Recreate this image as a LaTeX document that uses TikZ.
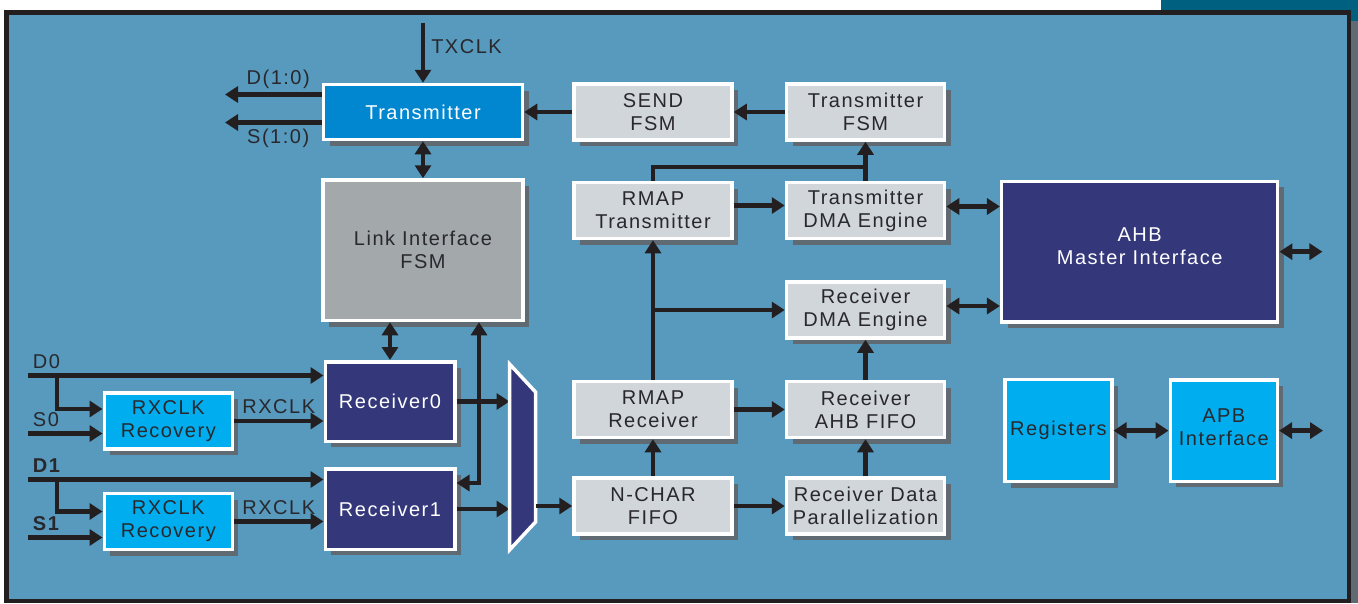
\documentclass[tikz,border=0pt]{standalone}
\usepackage{fontspec}
\setmainfont{Liberation Sans}[LetterSpace=7.5]
\usetikzlibrary{positioning,arrows.meta,shadows}
\definecolor{bgblue}{RGB}{87,154,190}
\definecolor{navy}{RGB}{52,56,122}
\definecolor{txblue}{RGB}{0,135,207}
\definecolor{cyanbox}{RGB}{0,174,239}
\definecolor{lightbox}{RGB}{209,214,218}
\definecolor{fsmgray}{RGB}{163,168,171}
\definecolor{shadowgray}{RGB}{95,106,114}
\definecolor{wireblack}{RGB}{35,31,32}
\definecolor{tabteal}{RGB}{0,96,127}
\definecolor{textdark}{RGB}{40,40,45}
\begin{document}
\begin{tikzpicture}[x=1pt, y=-1pt, >={Triangle[length=13pt,width=16pt]}, every node/.style={font=\fontsize{20}{23}\selectfont}]
    \tikzstyle{block} = [rectangle, draw=white, line width=3.5pt, align=center, inner sep=2pt, drop shadow={shadow xshift=6pt, shadow yshift=-6pt, fill=shadowgray, opacity=1}]
    \tikzstyle{unit} = [block, fill=lightbox, text=textdark, minimum width=158pt, minimum height=56pt]
    \tikzstyle{darkunit} = [block, fill=navy, text=white]
    \tikzstyle{cyanunit} = [block, fill=cyanbox, text=textdark]
    \tikzstyle{wire} = [line width=4.5pt, draw=wireblack]
    \tikzstyle{arr} = [wire, ->]
    \tikzstyle{both} = [wire, <->]
    \tikzstyle{lbl} = [text=textdark, inner sep=2pt]

    \useasboundingbox (0,0) rectangle (1358,603);
    % frame and tab
    \fill [white] (0,0) rectangle (1358,603);
    \fill [tabteal] (1161,0) rectangle (1358,21);
    \fill [shadowgray] (1351,21) rectangle (1358,603);
    \draw [line width=4.5pt, draw=wireblack, fill=bgblue] (6.5,12.5) rectangle (1349,601);

    \node (sendfsm) [unit] at (653,112) {SEND\\FSM};
    \node (txfsm) [unit, right=51pt of sendfsm] {Transmitter\\FSM};
    \node (transmitter) [block, fill=txblue, text=white, minimum width=199pt, minimum height=55pt, left=48pt of sendfsm] {Transmitter};
    \node (linkfsm) [block, fill=fsmgray, text=textdark, minimum width=200pt, minimum height=140.5pt, below=37pt of transmitter] {Link Interface\\FSM};
    \node (rmaptx) [unit, below=39pt of sendfsm] {RMAP\\Transmitter};
    \node (txdma) [unit, right=51pt of rmaptx] {Transmitter\\DMA Engine};
    \node (rxdma) [unit, below=40pt of txdma] {Receiver\\DMA Engine};
    \node (rxfifo) [unit, below=40pt of rxdma] {Receiver\\AHB FIFO};
    \node (rmaprx) [unit, left=51pt of rxfifo] {RMAP\\Receiver};
    \node (ncharfifo) [unit, below=37pt of rmaprx] {N-CHAR\\FIFO};
    \node (rxpar) [unit, right=51pt of ncharfifo] {Receiver Data\\Parallelization};
    \node (receiverA) [darkunit, minimum width=129.5pt, minimum height=79.5pt] at (390,401.5) {Receiver0};
    \node (receiverB) [darkunit, minimum width=129.5pt, minimum height=80.5pt, below=24pt of receiverA] {Receiver1};
    \node (rxclkA) [cyanunit, minimum width=128pt, minimum height=56pt] at (168.3,421) {RXCLK\\Recovery};
    \node (rxclkB) [cyanunit, minimum width=128pt, minimum height=56pt, below=41pt of rxclkA] {RXCLK\\Recovery};
    \node (ahb) [darkunit, minimum width=276pt, minimum height=140.5pt, text depth=12pt] at (1139.7,251.7) {AHB\\Master Interface};
    \node (registers) [cyanunit, inner sep=0pt, minimum width=107pt, minimum height=102pt] at (1058.3,430.6) {Registers};
    \node (apb) [cyanunit, inner sep=0pt, minimum width=107pt, minimum height=101.5pt, text depth=6pt, right=55pt of registers] {APB\\Interface};

    \coordinate [above=60pt of transmitter.north] (txclk);
    \coordinate (dout) at (225,94.5);
    \coordinate (sout) at (225,122.5);
    \coordinate (dzero) at (28,375.5);
    \coordinate (szero) at (28,433.5);
    \coordinate (done) at (28,479.5);
    \coordinate (sone) at (28,537.5);
    \coordinate [right=43pt of ahb.east] (ahbbus);
    \coordinate [right=44pt of apb.east] (apbbus);
    \coordinate (muxtl) at (509.5,364);
    \coordinate (muxtr) at (535.5,392);
    \coordinate (muxbr) at (535.5,522);
    \coordinate (muxbl) at (509.5,550);

    \draw [arr] (txclk) -- node [lbl, right=4pt, pos=0.4] {TXCLK} (transmitter.north);
    \draw [arr] (transmitter.west |- dout) -- node [lbl, above=2pt, pos=0.45] {D(1:0)} (dout);
    \draw [arr] (transmitter.west |- sout) -- node [lbl, below=2pt, pos=0.45] {S(1:0)} (sout);
    \draw [both] (transmitter) -- (linkfsm);
    \draw [both] (linkfsm.south -| receiverA.north) -- (receiverA.north);
    \draw [both] ([xshift=56pt]linkfsm.south) |- ([yshift=26pt]receiverB.east);

    \draw [arr] (dzero) node [lbl, above right=1pt, yshift=2pt] {D0} -- (dzero -| receiverA.west);
    \draw [arr] ([xshift=29pt]dzero) |- ([yshift=12pt]rxclkA.west);
    \draw [arr] (szero) node [lbl, above right=1pt, yshift=2pt] {S0} -- (szero -| rxclkA.west);
    \draw [arr] (rxclkA.east) -- node [lbl, above=3pt] {RXCLK} (rxclkA.east -| receiverA.west);
    \draw [arr] (done) node [lbl, above right=1pt, yshift=2pt] {\textbf{D1}} -- (done -| receiverB.west);
    \draw [arr] ([xshift=29pt]done) |- ([yshift=10pt]rxclkB.west);
    \draw [arr] (sone) node [lbl, above right=1pt, yshift=2pt] {\textbf{S1}} -- (sone -| rxclkB.west);
    \draw [arr] (rxclkB.east) -- node [lbl, above=3pt] {RXCLK} (rxclkB.east -| receiverB.west);

    \draw [arr] (receiverA.east) -- (receiverA.east -| muxtl);
    \draw [arr] (receiverB.east) -- (receiverB.east -| muxtl);
    % multiplexer
    \fill [shadowgray, xshift=6pt, yshift=-6pt] (muxtl) -- (muxtr) -- (muxbr) -- (muxbl) -- cycle;
    \draw [fill=navy, draw=white, line width=3.5pt] (muxtl) -- (muxtr) -- (muxbr) -- (muxbl) -- cycle;
    \draw [arr] (ncharfifo.west -| muxtr) -- (ncharfifo.west);

    \draw [arr] (txfsm) -- (sendfsm);
    \draw [arr] (sendfsm) -- (transmitter);
    \draw [arr] (txdma) -- (txfsm);
    \draw [wire] (rmaptx.north) |- ([yshift=14pt]txdma.north);
    \draw [arr] ([yshift=5pt]rmaptx.east) -- ([yshift=5pt]rmaptx.east -| txdma.west);
    \draw [both] ([yshift=4pt]txdma.east) -- ([yshift=4pt]txdma.east -| ahb.west);
    \draw [arr] (rmaprx) -- (rmaptx);
    \draw [arr] (rmaprx.north |- rxdma.west) -- (rxdma.west);
    \draw [both] ([yshift=4pt]rxdma.east) -- ([yshift=4pt]rxdma.east -| ahb.west);
    \draw [arr] (rmaprx) -- (rxfifo);
    \draw [arr] (rxfifo) -- (rxdma);
    \draw [arr] (ncharfifo) -- (rmaprx);
    \draw [arr] (ncharfifo) -- (rxpar);
    \draw [arr] (rxpar) -- (rxfifo);
    \draw [both] (ahb.east) -- (ahbbus);
    \draw [both] (registers) -- (apb);
    \draw [both] (apb.east) -- (apbbus);
\end{tikzpicture}
\end{document}
